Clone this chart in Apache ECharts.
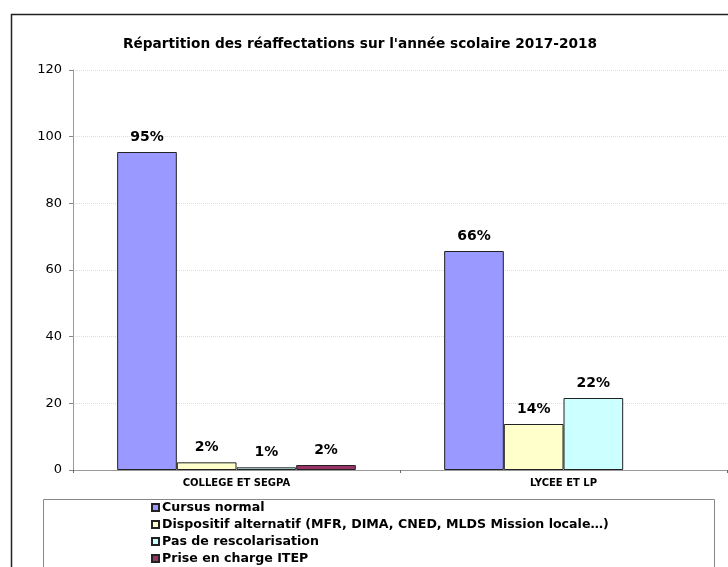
<!DOCTYPE html>
<html>
<head>
<meta charset="utf-8">
<script src="https://cdn.jsdelivr.net/npm/echarts@6/dist/echarts.min.js"></script>
<style>
html,body{margin:0;padding:0;background:#fff;}
#chart{width:728px;height:567px;}
</style>
</head>
<body>
<div id="chart"></div>
<script>
const title = "Répartition des réaffectations sur l'année scolaire 2017-2018";
const categories = ["COLLEGE ET SEGPA", "LYCEE ET LP"];
const seriesNames = [
  "Cursus normal",
  "Dispositif alternatif (MFR, DIMA, CNED, MLDS Mission locale…)",
  "Pas de rescolarisation",
  "Prise en charge ITEP"
];
const cursusNormal = [95.4, 65.7];
const dispositifAlternatif = [2.3, 13.8];
const pasRescolarisation = [0.8, 21.6];
const priseEnChargeITEP = [1.5, null];
const yTicks = [0, 20, 40, 60, 80, 100, 120];
const colors = ["#9999FF", "#FFFFCC", "#CCFFFF", "#993366"];

const values = [cursusNormal, dispositifAlternatif, pasRescolarisation, priseEnChargeITEP];
const FONT = 'DejaVu Sans, Arial';

const chart = echarts.init(document.getElementById('chart'), null, {renderer: 'canvas'});
chart.setOption({
  animation: false,
  backgroundColor: '#fff',
  title: {
    text: title,
    left: 360,
    textAlign: 'center',
    top: 37,
    padding: 0,
    textStyle: {fontFamily: FONT, fontSize: 13.7, fontWeight: 'bold', color: '#000'}
  },
  graphic: [
    {type: 'rect', left: 9, top: 12, shape: {width: 730, height: 600}, style: {fill: 'none', stroke: '#222', lineWidth: 1.5}, silent: true, z: -1},
    {type: 'rect', left: 43, top: 499, shape: {width: 671, height: 100}, style: {fill: '#fff', stroke: '#888', lineWidth: 1}, silent: true, z: -1}
  ],
  legend: {
    orient: 'vertical',
    left: 151,
    top: 500,
    height: 100,
    padding: 0,
    itemWidth: 7,
    itemHeight: 7,
    itemGap: 2,
    icon: 'rect',
    textStyle: {fontFamily: FONT, fontSize: 12.6, fontWeight: 'bold', color: '#000', padding: [0, 0, 0, -2], lineHeight: 15},
    data: seriesNames
  },
  grid: {left: 73, right: 1, top: 70, bottom: 97, containLabel: false},
  xAxis: {
    type: 'category',
    data: categories,
    axisLine: {lineStyle: {color: '#999', width: 1}},
    axisTick: {show: true, length: 3, lineStyle: {color: '#666'}},
    axisLabel: {fontFamily: FONT, fontSize: 10, fontWeight: 'bold', color: '#000', margin: 8}
  },
  yAxis: {
    type: 'value',
    min: 0,
    max: 120,
    interval: 20,
    axisLine: {show: true, lineStyle: {color: '#999', width: 1}},
    axisTick: {show: true, length: 4, lineStyle: {color: '#888'}},
    axisLabel: {fontFamily: FONT, fontSize: 13, color: '#000', margin: 11,
      formatter: v => yTicks.includes(v) ? String(v) : ''},
    splitLine: {lineStyle: {color: '#ddd', type: 'dotted', width: 1}}
  },
  series: seriesNames.map((name, i) => ({
    name: name,
    type: 'bar',
    data: values[i],
    barGap: '0%',
    barCategoryGap: '27%',
    itemStyle: {color: colors[i], borderColor: '#222', borderWidth: 1},
    label: {
      show: true,
      position: 'top',
      distance: 8,
      fontFamily: FONT,
      fontSize: 14,
      fontWeight: 'bold',
      color: '#000',
      formatter: p => p.value == null ? '' : Math.round(p.value) + '%'
    }
  }))
});
</script>
</body>
</html>
